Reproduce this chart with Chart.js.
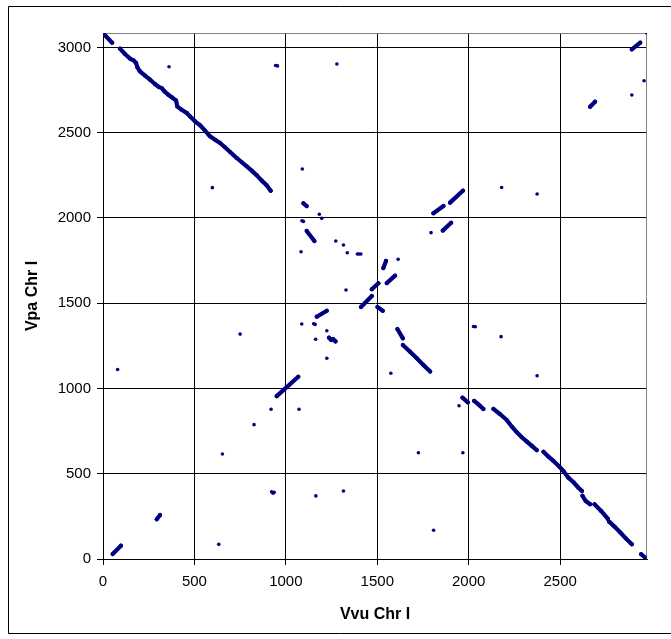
<!DOCTYPE html>
<html>
<head>
<meta charset="utf-8">
<script src="https://cdn.jsdelivr.net/npm/chart.js@4/dist/chart.umd.min.js"></script>
<style>
  html, body { margin: 0; padding: 0; background: #fff; }
  #wrap { position: relative; width: 671px; height: 639px; overflow: hidden; }
  canvas { display: block; }
</style>
</head>
<body>
<div id="wrap"><canvas id="c" width="671" height="639"></canvas></div>
<script>
// ---- Data (Vvu Chr I position vs Vpa Chr I position) ----
// Axis ticks and ranges
const xTicks = [0, 500, 1000, 1500, 2000, 2500];
const yTicks = [0, 500, 1000, 1500, 2000, 2500, 3000];
const xMax = 2975;
const yMax = 3085;

// Large inverted block, upper left (null = break between runs)
const tlVvu = [0, 50, null,
  93, 120, 148, 166, 181, 188, 202, 230, 257, 284, 303, 321, 336, 357, 376, 399, 407, 430,
  458, 476, 503, 531, 558, 585, 613, 640, 667, 695, 731, 759, 786, 813, 841, 868, 895, 917];
const tlVpa = [3084, 3028, null,
  2993, 2962, 2935, 2925, 2909, 2884, 2860, 2835, 2811, 2786, 2770, 2762, 2743, 2723, 2708, 2690, 2653, 2635,
  2616, 2596, 2567, 2544, 2512, 2479, 2459, 2440, 2415, 2387, 2352, 2327, 2303, 2278, 2250, 2219, 2192, 2160];

// Large inverted block, lower right
const brVvu = [1966, 1995, null, 2030, 2053, 2080, null,
  2135, 2172, 2208, 2236, 2263, 2290, 2318, 2345, 2372, null,
  2409, 2436, 2463, 2491, 2518, 2545, 2573, 2600, 2619, null,
  2622, 2640, 2664, null, 2688, 2724, 2761, null,
  2768, 2797, 2828, 2859, 2892, null, 2943, 2974];
const brVpa = [946, 919, null, 927, 907, 880, null,
  880, 849, 815, 776, 743, 714, 688, 663, 639, null,
  629, 600, 575, 547, 516, 477, 450, 418, 399, null,
  371, 340, 321, null, 321, 282, 235, null,
  219, 190, 157, 121, 86, null, 28, 0];

// Shorter syntenic runs (centre cross and corners)
const runVvu = [950, 1068, null, 1411, 1470, null, 1470, 1506, null, 1501, 1530, null,
  1533, 1548, null, 1552, 1597, null, 1169, 1224, null, 1610, 1640, null,
  1640, 1679, 1716, 1752, 1789, null, 1096, 1114, null, 1114, 1156, null,
  1807, 1862, null, 1898, 1968, null, 1858, 1904, null, 1236, 1248, null,
  1258, 1272, null, 294, 312, null, 53, 98, null, 2892, 2938, null, 2664, 2691];
const runVpa = [955, 1069, null, 1478, 1542, null, 1582, 1617, null, 1478, 1456, null,
  1706, 1748, null, 1618, 1662, null, 1421, 1456, null, 1349, 1294, null,
  1255, 1216, 1177, 1138, 1099, null, 2086, 2070, null, 1924, 1865, null,
  2028, 2070, null, 2090, 2160, null, 1926, 1972, null, 1298, 1284, null,
  1290, 1276, null, 233, 258, null, 29, 78, null, 2989, 3028, null, 2653, 2682];

// Isolated hits
const hitVvu = [361, 944, 954, 1279, 598, 80, 750, 2180, 2374, 2177, 2374, 1808, 1090, 1183, 1196,
  1088, 1096, 1083, 1273, 1315, 1336, 1391, 1400, 1410, 1329, 1614, 1087, 1152, 1160, 1163, 1224,
  1224, 919, 1072, 1574, 2026, 2036, 1725, 1968, 1947, 922, 930, 936, 1164, 1315, 826, 653, 633,
  2974, 2959, 2892, 1794];
const hitVpa = [2887, 2894, 2892, 2903, 2178, 1111, 1319, 2179, 2141, 1304, 1075, 169, 2287, 2022, 1998,
  1984, 1980, 1802, 1865, 1842, 1796, 1789, 1789, 1789, 1578, 1758, 1378, 1380, 1376, 1289, 1339,
  1177, 878, 878, 1089, 1364, 1362, 623, 623, 899, 394, 386, 391, 370, 399, 788, 616, 86,
  3085, 2805, 2721, 1914];

const NAVY = '#000080';
const FONT = '"Liberation Sans", Arial, Helvetica, sans-serif';

function pts(xs, ys) {
  return xs.map((x, i) => (x === null ? { x: null, y: null } : { x: x, y: ys[i] }));
}

function blockSet(xs, ys) {
  return {
    data: pts(xs, ys),
    showLine: true,
    spanGaps: false,
    borderColor: NAVY,
    backgroundColor: NAVY,
    borderWidth: 4.2,
    borderCapStyle: 'round',
    borderJoinStyle: 'round',
    pointRadius: 2.1,
    pointBorderWidth: 0,
    pointHoverRadius: 2.1
  };
}

const framePlugin = {
  id: 'frame',
  beforeDraw(chart) {
    const ctx = chart.ctx;
    ctx.save();
    ctx.fillStyle = '#fff';
    ctx.fillRect(0, 0, chart.width, chart.height);
    ctx.strokeStyle = '#000';
    ctx.lineWidth = 1;
    ctx.beginPath();
    ctx.moveTo(chart.width + 5, 6.5);
    ctx.lineTo(8.5, 6.5);
    ctx.lineTo(8.5, 633.5);
    ctx.lineTo(chart.width + 5, 633.5);
    ctx.stroke();
    ctx.restore();
  },
  beforeDatasetsDraw(chart) {
    const a = chart.chartArea;
    const ctx = chart.ctx;
    ctx.save();
    ctx.strokeStyle = '#808080';
    ctx.lineWidth = 1;
    ctx.beginPath();
    ctx.moveTo(Math.round(a.left) + 0.5, Math.round(a.top) + 0.5);
    ctx.lineTo(Math.round(a.right) - 0.5, Math.round(a.top) + 0.5);
    ctx.lineTo(Math.round(a.right) - 0.5, Math.round(a.bottom) + 0.5);
    ctx.stroke();
    ctx.restore();
  }
};

const plain = v => String(v);

new Chart(document.getElementById('c'), {
  type: 'scatter',
  data: {
    datasets: [
      blockSet(tlVvu, tlVpa),
      blockSet(brVvu, brVpa),
      blockSet(runVvu, runVpa),
      {
        data: pts(hitVvu, hitVpa),
        showLine: false,
        backgroundColor: NAVY,
        borderColor: NAVY,
        pointRadius: 1.8,
        pointBorderWidth: 0,
        pointHoverRadius: 1.8
      }
    ]
  },
  options: {
    responsive: false,
    animation: false,
    devicePixelRatio: 1,
    layout: { padding: { top: 33, right: 24, left: 0, bottom: 0 } },
    plugins: { legend: { display: false }, tooltip: { enabled: false } },
    scales: {
      x: {
        type: 'linear',
        position: 'bottom',
        min: 0,
        max: xMax,
        afterBuildTicks(s) { s.ticks = xTicks.map(v => ({ value: v })); },
        afterFit(s) { s.height = 80; },
        ticks: {
          callback: plain,
          color: '#000',
          padding: 8,
          maxRotation: 0,
          autoSkip: false,
          font: { family: FONT, size: 15 }
        },
        grid: { color: '#000', lineWidth: 1, tickLength: 6, tickColor: '#000' },
        border: { color: '#000', width: 1 },
        title: {
          display: true,
          text: 'Vvu Chr I',
          color: '#000',
          font: { family: FONT, size: 16, weight: 'bold' },
          padding: { top: 0, bottom: 15 }
        }
      },
      y: {
        type: 'linear',
        position: 'left',
        min: 0,
        max: yMax,
        afterBuildTicks(s) { s.ticks = yTicks.map(v => ({ value: v })); },
        afterFit(s) { s.width = 103; },
        ticks: {
          callback: plain,
          color: '#000',
          padding: 6,
          autoSkip: false,
          font: { family: FONT, size: 15 }
        },
        grid: { color: '#000', lineWidth: 1, tickLength: 6, tickColor: '#000' },
        border: { color: '#000', width: 1 },
        title: {
          display: true,
          text: 'Vpa Chr I',
          color: '#000',
          font: { family: FONT, size: 16, weight: 'bold' },
          padding: { top: 23, bottom: 0 }
        }
      }
    }
  },
  plugins: [framePlugin]
});
</script>
</body>
</html>
